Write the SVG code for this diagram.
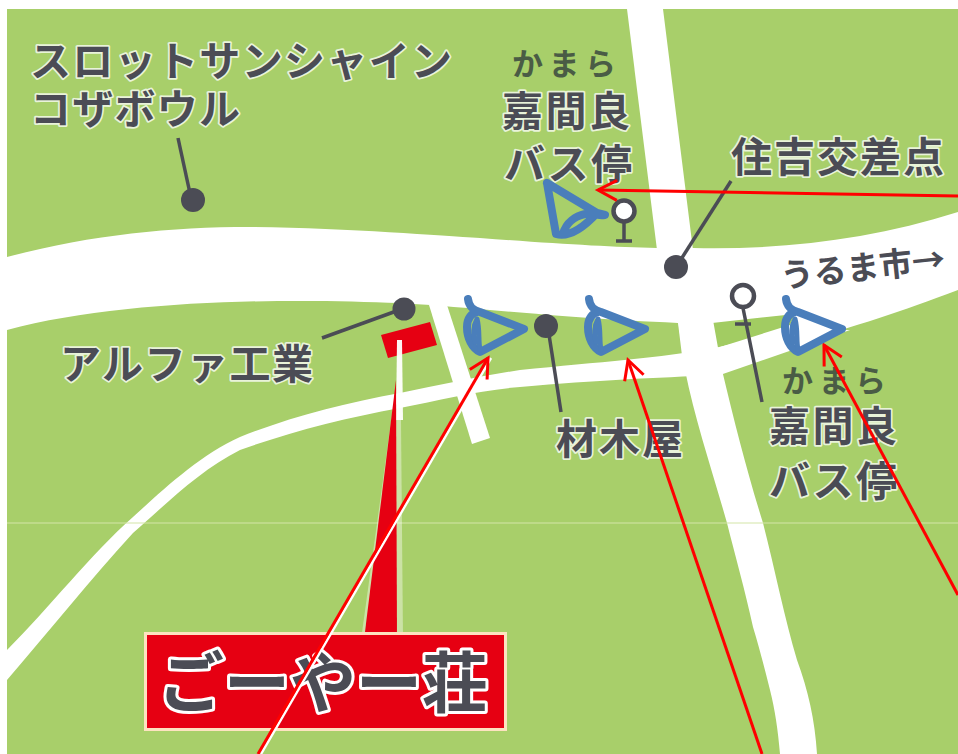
<svg xmlns="http://www.w3.org/2000/svg" width="958" height="754" viewBox="0 0 958 754">
<style>
.road{fill:#fff}
.ink{fill:none;stroke:#4b4c55;stroke-width:3.500;stroke-linecap:butt}
.dot{fill:#4b4c55}
.stop{fill:#fff;stroke:#4b4c55;stroke-width:4.500}
text{font-family:"Noto Sans CJK JP","Noto Sans",sans-serif;font-weight:700;fill:#4b4c55;stroke:#fff;stroke-width:3.500;stroke-opacity:.75;paint-order:stroke;stroke-linejoin:round;font-size:41px}
.kana{font-size:31px;fill:#4a5c45;stroke:none}
.eye{fill:none;stroke:#4a7ebb;stroke-width:8;stroke-linecap:round;stroke-linejoin:round}
.arrow{fill:none;stroke:#f00;stroke-width:3}
</style>
<defs>
<marker id="open" markerUnits="userSpaceOnUse" markerWidth="26" markerHeight="26" refX="22" refY="13" orient="auto" viewBox="0 0 26 26">
<path d="M3 3L22 13L3 23" fill="none" stroke="#f00" stroke-width="3"/>
</marker>
<g id="eyeShape">
<path class="eye" d="M468 299C469 307 473 310 480 312L524 329L480 352C472 348 467 338 467 327C467 318 472 313 477 312"/>
<path class="eye" style="stroke-width:5" d="M480 350C478 340 480 330 477 319C473 326 473 336 475 342"/>
</g>
</defs>
<rect width="958" height="754" fill="#fff"/>
<g id="map">
<rect x="7" y="9" width="951" height="745" fill="#a8cf6a"/>
<path fill="#2e9fd0" d="M7 296C11 303 11 318 7 326Z"/>
<path class="road" d="M7 257C90 235 170 227 250 227C350 228 440 236 480 238C560 244 610 247 657 248L693 248C780 250 870 240 958 212V290C900 312 860 325 790 345L717 372L684 372L678 323C560 318 480 308 400 303C280 298 120 300 7 330Z"/>
<path fill="#a2cc62" d="M712 323L717 348L790 325L795 314Z"/>
<path class="road" d="M627 9H663L693 250L657 250Z"/>
<path class="road" d="M678 320L713 320L722 370C735 425 748 475 763 523C775 570 785 620 797 660C808 690 815 720 817 754H780C778 730 775 710 770 690C765 670 760 650 753 627C745 590 735 555 727 523C712 470 695 420 685 370Z"/>
<path class="road" d="M429 305L447 305L490 438L472 444Z"/>
<path class="road" d="M7 650C50 607 90 555 133 517C165 488 200 455 240 437C290 417 345 403 400 393C440 385 480 376 520 370C600 362 660 358 715 348L790 330L850 330L720 375C650 378 600 380 520 387C480 390 440 400 400 408C345 418 290 432 240 450C200 470 165 505 133 533C90 580 50 630 7 680Z"/>
<rect x="7" y="522.500" width="951" height="1" fill="#d4e6a8"/>
</g>
<g id="goyaso">
<path fill="#fff" d="M396 385L401 420L403 640H361Z" opacity=".4"/>
<path fill="#e60012" d="M381 335L430 322L437 345L388 358Z"/>
<path fill="#fff" d="M397 340L402 340L403 420L396 420Z" opacity=".95"/>
<path fill="#e60012" d="M396 380L397 640H364Z"/>
<rect x="145.500" y="633.500" width="360" height="96" fill="#e60012" stroke="#fde3c0" stroke-width="3"/>
<text x="158" y="707" style="font-size:66px;stroke-width:6;stroke-opacity:1">ごーやー荘</text>
</g>
<g id="labels">
<text x="30" y="76" textLength="422">スロットサンシャイン</text>
<text x="30" y="124" textLength="210">コザボウル</text>
<text class="kana" x="512" y="75" textLength="104">かまら</text>
<text x="502" y="126" textLength="128">嘉間良</text>
<text x="504" y="179" textLength="128">バス停</text>
<text x="731" y="172" textLength="213">住吉交差点</text>
<text transform="translate(782 288) rotate(-6)" textLength="165" style="font-size:33px;stroke:none">うるま市→</text>
<text x="60" y="379" textLength="253">アルファ工業</text>
<text x="556" y="454" textLength="127">材木屋</text>
<text class="kana" x="782" y="392" textLength="104">かまら</text>
<text x="769" y="441" textLength="128">嘉間良</text>
<text x="769" y="496" textLength="128">バス停</text>
</g>
<g id="markers">
<path class="ink" d="M178 138L191 198"/><circle class="dot" cx="193" cy="200" r="12"/>
<path class="ink" d="M731 181L678 264"/><circle class="dot" cx="676" cy="267" r="12"/>
<path class="ink" d="M322 338L402 309"/><circle class="dot" cx="404" cy="309" r="11.500"/>
<path class="ink" d="M548 328L561 412"/><circle class="dot" cx="546" cy="326" r="12"/>
<path class="ink" d="M624 222V240M616 241H632"/><circle class="stop" cx="624" cy="211" r="10.500"/>
<path class="ink" d="M743 308L762 402M735 324H751"/><circle class="stop" cx="743" cy="296" r="11"/>
</g>
<g id="connectors">
<path d="M261 754L491 358" fill="none" stroke="#fff" stroke-width="2.500"/>
<path class="arrow" marker-end="url(#open)" d="M958 196L598 190"/>
<path class="arrow" marker-end="url(#open)" d="M258 754L488 358"/>
<path class="arrow" marker-end="url(#open)" d="M762 754L628 360"/>
<path class="arrow" marker-end="url(#open)" d="M958 595L824 345"/>
</g>
<g id="eyes">
<use href="#eyeShape"/>
<use href="#eyeShape" x="121"/>
<use href="#eyeShape" x="318"/>
<path class="eye" d="M547 183L597 213L605 215C596 216 590 213 585 214C576 216 566 222 563 234M547 183L556 234C570 238 585 226 597 213"/>
</g>
</svg>
